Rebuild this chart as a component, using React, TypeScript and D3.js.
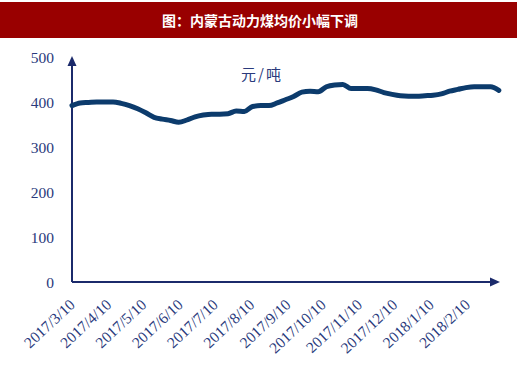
import * as d3 from "d3";

// weekly coal price, 元/吨
const startDate = "2017-03-10";
const prices = [
  392, 398, 399, 400, 400, 400, 397, 392, 385, 376, 366, 362, 359, 355, 360,
  367, 371, 373, 373, 374, 380, 379, 390, 392, 392, 398, 405, 412, 422, 424,
  423, 434, 438, 439, 430, 430, 430, 427, 421, 417, 414, 413, 413, 414, 415,
  418, 424, 428, 432, 434, 434, 434, 426,
];
const monthTicks = [
  "2017/3/10", "2017/4/10", "2017/5/10", "2017/6/10", "2017/7/10", "2017/8/10",
  "2017/9/10", "2017/10/10", "2017/11/10", "2017/12/10", "2018/1/10", "2018/2/10",
];
const yTicks = [0, 100, 200, 300, 400, 500];
const title = "图：内蒙古动力煤均价小幅下调";
const unit = "元/吨";

const parse = d3.timeParse("%Y/%m/%d");
const start = d3.timeParse("%Y-%m-%d")(startDate) as Date;
const weeks = prices.map((v, i) => ({ date: d3.timeDay.offset(start, i * 7), value: v }));

const AXIS = "#1b2a6b";
const TEXT = "#2a3a7c";
const LINE = "#0c3b6c";

export default function App() {
  const width = 520;
  const height = 370;
  const x0 = 72;
  const y0 = 282;

  const x = d3
    .scaleTime()
    .domain([start, d3.timeDay.offset(start, 365)])
    .range([x0, 500]);
  const y = d3.scaleLinear().domain([0, 500]).range([y0, 57]);

  const line = d3
    .line<{ date: Date; value: number }>()
    .x((d) => x(d.date))
    .y((d) => y(d.value))
    .curve(d3.curveMonotoneX);

  return (
    <svg
      width={width}
      height={height}
      style={{ position: "absolute", left: 0, top: 0, background: "#fff" }}
    >
      {/* title bar */}
      <rect x={0} y={2} width={517} height={36} fill="#990000" />
      <text
        x={260}
        y={20}
        textAnchor="middle"
        dominantBaseline="central"
        fill="#fff"
        fontWeight="bold"
        fontSize={14}
        fontFamily="'Noto Sans CJK SC', sans-serif"
      >
        {title}
      </text>

      {/* y tick labels */}
      {yTicks.map((t) => (
        <text
          key={t}
          x={54}
          y={y(t)}
          textAnchor="end"
          dominantBaseline="central"
          fill={TEXT}
          fontSize={15.5}
          fontFamily="'Liberation Serif', serif"
        >
          {t}
        </text>
      ))}

      {/* x tick labels */}
      {monthTicks.map((t) => {
        const tx = x(parse(t) as Date) + 4;
        const ty = 306;
        return (
          <text
            key={t}
            x={tx}
            y={ty}
            textAnchor="end"
            transform={`rotate(-43 ${tx} ${ty})`}
            fill={TEXT}
            fontSize={15.5}
            fontFamily="'Liberation Serif', serif"
          >
            {t}
          </text>
        );
      })}

      {/* axes with arrows */}
      <line x1={x0} y1={y0} x2={x0} y2={64} stroke={AXIS} strokeWidth={2} />
      <path d={`M${x0 - 4.5},${66} L${x0},${56} L${x0 + 4.5},${66} Z`} fill={AXIS} />
      <line x1={x0} y1={y0} x2={492} y2={y0} stroke={AXIS} strokeWidth={2} />
      <path d={`M${490},${y0 - 4.5} L${500},${y0} L${490},${y0 + 4.5} Z`} fill={AXIS} />

      {/* unit */}
      <text
        x={262}
        y={73}
        textAnchor="middle"
        dominantBaseline="central"
        fill={TEXT}
        fontSize={15}
        letterSpacing={2}
        fontFamily="'Noto Sans CJK SC', serif"
      >
        {unit}
      </text>

      <path
        d={line(weeks) ?? ""}
        fill="none"
        stroke={LINE}
        strokeWidth={5}
        strokeLinejoin="round"
        strokeLinecap="round"
      />
    </svg>
  );
}
